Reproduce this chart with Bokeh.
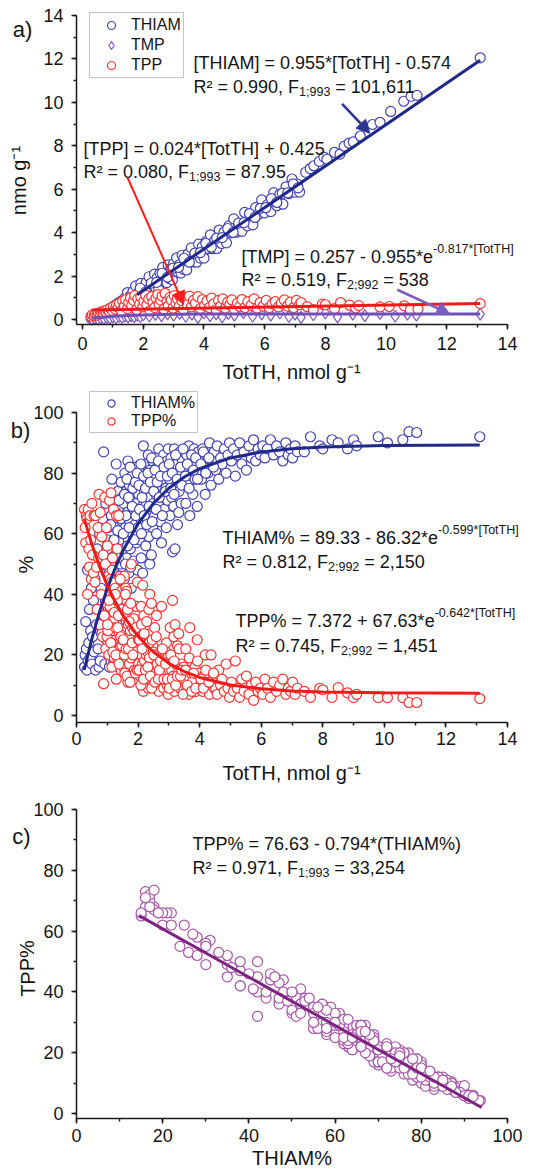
from bokeh.plotting import figure
from bokeh.models import (Label, Arrow, NormalHead, Legend, LegendItem,
                          SingleIntervalTicker, Range1d)
from bokeh.layouts import column
from bokeh.embed import file_html
from bokeh.resources import INLINE

FONT = "Liberation Sans"
TXT = "#141414"

# ---------------- Panel a: nmol/g vs TotTH ----------------
a_thiam_x = [0.28, 0.33, 0.36, 0.41, 0.45, 0.49, 0.53, 0.57, 0.62, 0.66, 0.70, 0.74, 0.79, 0.83, 0.87, 0.91, 0.96, 1.00,
             1.04, 1.09, 1.13, 1.17, 1.22, 1.26, 1.31, 1.35, 1.39, 1.44,
             1.48, 1.53, 1.57, 1.61, 1.66, 1.70, 1.75, 1.79, 1.84, 1.88, 1.92, 1.97,
             2.01, 2.06, 2.10, 2.15, 2.19, 2.24, 2.28, 2.33, 2.37, 2.42, 2.46, 2.51, 2.55, 2.60, 2.64, 2.69, 2.73, 2.78, 2.82, 2.87, 2.91, 2.96,
             3.00, 3.05, 3.10, 3.14, 3.19, 3.24, 3.28, 3.33, 3.38, 3.43, 3.48, 3.53, 3.58, 3.64, 3.70, 3.76, 3.82, 3.88, 3.94,
             4.00, 4.07, 4.14, 4.21, 4.28, 4.35, 4.42, 4.50, 4.58, 4.66, 4.74, 4.82, 4.90, 4.98,
             5.07, 5.16, 5.25, 5.34, 5.43, 5.52, 5.61, 5.70, 5.80, 5.90, 6.00,
             6.10, 6.20, 6.30, 6.40, 6.50, 6.60, 6.70, 6.80, 6.90, 7.00, 7.08, 7.15,
             7.35, 7.50, 7.62, 7.80, 7.95, 8.05, 8.30, 8.48, 8.62, 8.78, 8.92, 9.15, 9.55, 9.80, 10.15, 10.58, 10.82, 11.02, 13.10,
             1.55, 1.72, 1.90, 2.08, 2.26, 2.44, 2.62, 2.80, 2.98, 3.16, 3.34, 3.52, 3.70, 3.88, 4.06, 4.24,
             4.42, 4.60, 4.78, 4.96, 5.14, 5.32, 5.50, 5.68, 5.86, 6.04, 6.22, 6.40, 6.58, 6.76, 6.94, 7.10]
a_thiam_y = [0.06, 0.12, 0.04, 0.10, 0.18, 0.08, 0.22, 0.12, 0.28, 0.16, 0.33, 0.20, 0.40, 0.25, 0.48, 0.30, 0.55, 0.36,
             0.63, 0.35, 0.72, 0.42, 0.80, 0.50, 0.88, 0.58, 0.98, 0.66,
             1.24, 0.59, 1.08, 0.54, 1.29, 0.93, 1.55, 0.89, 1.23, 0.84, 1.66, 1.01,
             1.50, 0.97, 1.71, 1.36, 1.97, 1.32, 1.65, 1.27, 2.09, 1.44, 1.93, 1.40, 2.14, 1.79, 2.40, 1.75, 2.08, 1.70, 2.52, 1.87, 2.36, 1.83,
             2.57, 2.22, 2.84, 2.18, 2.52, 2.14, 2.96, 2.31, 2.80, 2.28, 3.03, 2.68, 3.30, 2.65, 3.01, 2.64, 3.47, 2.83, 3.34,
             2.83, 3.59, 3.26, 3.90, 3.26, 3.63, 3.27, 4.12, 3.50, 4.03, 3.53, 4.31, 3.99, 4.63,
             4.02, 4.40, 4.06, 4.93, 4.31, 4.85, 4.36, 5.15, 4.85, 5.51, 4.91,
             5.30, 4.97, 5.84, 5.24, 5.78, 5.31, 6.11, 5.80, 6.47, 5.86, 6.24, 5.87,
             6.78, 6.95, 7.08, 7.28, 7.48, 7.38, 7.70, 7.62, 7.98, 8.12, 8.18, 8.45, 8.98, 9.08, 9.58, 10.05, 10.28, 10.32, 12.05,
             1.00, 1.02, 1.44, 1.26, 1.68, 1.71, 2.13, 1.95, 2.37, 2.40, 2.82, 2.64, 3.06, 3.08, 3.50, 3.33,
             3.75, 3.77, 4.19, 4.01, 4.44, 4.46, 4.88, 4.70, 5.12, 5.15, 5.57, 5.39, 5.81, 5.83, 6.25, 6.06]

a_tpp_x = [0.28, 0.32, 0.38, 0.42, 0.48, 0.52, 0.58, 0.62, 0.68, 0.72, 0.78, 0.82, 0.88, 0.92, 0.98,
           1.02, 1.08, 1.12, 1.18, 1.22, 1.28, 1.32, 1.38, 1.42, 1.48, 1.52, 1.58, 1.62, 1.68, 1.72, 1.78, 1.82, 1.88, 1.92, 1.98,
           2.02, 2.08, 2.12, 2.18, 2.22, 2.28, 2.32, 2.38, 2.42, 2.48, 2.52, 2.58, 2.62, 2.68, 2.72, 2.78, 2.82, 2.88, 2.92, 2.98,
           3.02, 3.08, 3.12, 3.18, 3.22, 3.28, 3.32, 3.38, 3.45, 3.52, 3.58, 3.65, 3.72, 3.80, 3.88, 3.95,
           4.02, 4.10, 4.18, 4.25, 4.32, 4.40, 4.48, 4.55, 4.62, 4.70, 4.78, 4.85, 4.92,
           5.00, 5.10, 5.18, 5.25, 5.35, 5.45, 5.55, 5.65, 5.75, 5.85, 5.95,
           6.05, 6.15, 6.25, 6.35, 6.45, 6.55, 6.65, 6.75, 6.85, 6.95, 7.05, 7.15, 7.20,
           7.40, 7.60, 7.90, 8.00, 8.30, 8.50, 8.80, 9.00, 9.10, 9.80, 10.10, 10.60, 10.80, 11.05, 13.10]
a_tpp_y = [0.15, 0.22, 0.18, 0.25, 0.20, 0.30, 0.26, 0.35, 0.30, 0.40, 0.33, 0.45, 0.38, 0.52, 0.42,
           0.60, 0.48, 0.68, 0.55, 0.75, 0.40, 0.85, 0.62, 0.92, 0.50, 0.78, 1.00, 0.65, 0.88, 1.10, 0.45, 0.95, 0.72, 1.05, 0.58,
           0.85, 1.12, 0.68, 0.95, 0.40, 1.05, 0.78, 0.55, 0.98, 1.15, 0.70, 0.88, 1.08, 0.48, 1.20, 0.82, 0.62, 1.02, 0.90, 0.52,
           1.10, 0.75, 0.95, 0.60, 1.05, 0.85, 0.45, 0.98, 0.70, 1.08, 0.58, 0.88, 0.75, 1.05, 0.50, 0.92,
           0.65, 0.85, 0.55, 0.98, 0.72, 0.45, 0.88, 0.62, 0.95, 0.52, 0.80, 0.68, 0.90,
           0.48, 0.75, 0.60, 0.92, 0.55, 0.82, 0.65, 0.95, 0.52, 0.78, 0.62,
           0.88, 0.55, 0.72, 0.82, 0.58, 0.75, 0.90, 0.62, 0.80, 0.55, 0.88, 0.68, 0.78,
           0.59, 0.46, 0.71, 0.68, 0.50, 0.78, 0.66, 0.53, 0.64, 0.58, 0.60, 0.63, 0.46, 0.48, 0.73]

a_tmp_x = [0.3, 0.4, 0.5, 0.6, 0.7, 0.8, 0.9, 1.0, 1.1, 1.2, 1.3, 1.4, 1.5, 1.6, 1.7, 1.8, 1.9, 2.0,
           2.2, 2.4, 2.6, 2.8, 3.0, 3.2, 3.4, 3.6, 3.8, 4.0, 4.2, 4.4, 4.6, 4.8, 5.0,
           5.3, 5.6, 5.9, 6.2, 6.5, 6.8,
           7.0, 7.2, 7.6, 8.0, 8.4, 8.9, 9.3, 9.8, 10.3, 10.7, 11.0, 13.1]
a_tmp_y = [0.02, 0.05, 0.03, 0.08, 0.05, 0.10, 0.06, 0.12, 0.08, 0.14, 0.10, 0.16, 0.12, 0.18, 0.13, 0.20, 0.14, 0.22,
           0.16, 0.24, 0.18, 0.26, 0.20, 0.28, 0.15, 0.25, 0.10, 0.30, 0.18, 0.26, 0.12, 0.28, 0.20,
           0.32, 0.15, 0.26, 0.20, 0.30, 0.14,
           0.25, 0.10, 0.22, 0.30, 0.12, 0.25, 0.18, 0.28, 0.15, 0.25, 0.20, 0.25]

# fitted lines, panel a
a_thiam_fit_x = [1.8, 13.1]
a_thiam_fit_y = [1.145, 11.937]
a_tpp_fit_x = [0.3, 13.1]
a_tpp_fit_y = [0.432, 0.739]
a_tmp_fit_x = [0.3, 0.5, 0.75, 1.0, 1.5, 2.0, 3.0, 4.0, 6.0, 9.0, 13.1]
a_tmp_fit_y = [0.06, 0.09, 0.12, 0.15, 0.19, 0.21, 0.24, 0.25, 0.256, 0.257, 0.257]

# ---------------- Panel b / c: percentages per sample ----------------
b_tot = [0.26, 0.28, 0.30, 0.32, 0.34, 0.36, 0.38, 0.40, 0.42, 0.44, 0.46, 0.48,
         0.50, 0.52, 0.55, 0.57, 0.60, 0.62, 0.65, 0.67, 0.70, 0.72, 0.73, 0.75, 0.77, 0.80, 0.82, 0.85, 0.87, 0.88, 0.90, 0.92, 0.94, 0.95, 0.97, 0.98, 0.99, 1.00,
         1.02, 1.04, 1.05, 1.07, 1.09, 1.10, 1.12, 1.13, 1.14, 1.15, 1.17, 1.19, 1.20, 1.21, 1.23, 1.24, 1.25, 1.27, 1.29, 1.30, 1.31, 1.33, 1.35, 1.37, 1.39, 1.41, 1.43, 1.45, 1.46, 1.47, 1.48, 1.49,
         1.51, 1.53, 1.55, 1.57, 1.58, 1.60, 1.62, 1.63, 1.65, 1.67, 1.68, 1.70, 1.72, 1.73, 1.75, 1.77, 1.78, 1.80, 1.82, 1.84, 1.86, 1.88, 1.90, 1.92, 1.94, 1.96, 1.98, 1.99,
         2.02, 2.04, 2.06, 2.08, 2.10, 2.12, 2.14, 2.15, 2.17, 2.19, 2.21, 2.23, 2.25, 2.27, 2.29, 2.31, 2.33, 2.35, 2.37, 2.38, 2.39, 2.41, 2.43, 2.45, 2.47, 2.48, 2.49,
         2.52, 2.54, 2.56, 2.58, 2.60, 2.63, 2.65, 2.67, 2.70, 2.72, 2.74, 2.76, 2.78, 2.80, 2.83, 2.85, 2.87, 2.90, 2.92, 2.94, 2.96, 2.98,
         3.02, 3.04, 3.07, 3.09, 3.12, 3.14, 3.16, 3.18, 3.20, 3.23, 3.25, 3.28, 3.30, 3.33, 3.36, 3.40, 3.44, 3.48,
         3.52, 3.55, 3.58, 3.62, 3.65, 3.68, 3.72, 3.75, 3.78, 3.82, 3.85, 3.88, 3.92, 3.95, 3.98,
         4.02, 4.06, 4.10, 4.14, 4.18, 4.22, 4.27, 4.32, 4.37, 4.42, 4.47, 4.52, 4.57, 4.62, 4.68, 4.73, 4.80, 4.86, 4.92, 4.97,
         5.03, 5.10, 5.16, 5.22, 5.30, 5.37, 5.44, 5.52, 5.60, 5.68, 5.75, 5.82, 5.90, 5.97,
         6.05, 6.12, 6.20, 6.30, 6.40, 6.50, 6.60, 6.70, 6.80, 6.88, 6.95, 7.02, 7.10, 7.18,
         7.40, 7.60, 7.90, 8.00, 8.30, 8.50, 8.80, 9.00, 9.10, 9.80, 10.10, 10.60, 10.80, 11.05, 13.10,
         1.01, 1.06, 1.11, 1.16, 1.18, 1.22, 1.26, 1.28, 1.32, 1.34, 1.36, 1.38, 1.42, 1.44, 1.52,
         1.56, 1.59, 1.61, 1.64, 1.66, 1.69, 1.71, 1.74, 1.76, 1.81, 1.83, 1.87, 1.91, 1.93, 1.97,
         2.01, 2.03, 2.05, 2.09, 2.11, 2.13, 2.18, 2.20, 2.24, 2.28, 2.32, 2.36, 2.40,
         2.44, 2.46, 2.51, 2.55, 2.59, 2.62, 2.66, 2.69, 2.73, 2.79, 2.84, 2.89, 2.95,
         3.01, 3.06, 3.11, 3.17, 3.22, 3.27, 3.32, 3.38, 3.42, 3.46, 3.54,
         3.60, 3.66, 3.74, 3.80, 3.87, 3.93, 4.04, 4.12, 4.20, 4.30, 4.45]
b_thiam_pct = [16, 20, 31, 22, 15, 48, 18, 24, 35, 19, 28, 42,
               17, 26, 38, 21, 45, 15, 30, 55, 22, 35, 16, 60, 18, 42, 27, 65, 33, 87, 50, 17, 38, 70, 25, 47, 58, 30,
               62, 40, 72, 16, 52, 35, 18, 66, 45, 78, 28, 57, 17, 48, 70, 42, 38, 62, 83, 20, 53, 44, 74, 19, 60, 68, 50, 77, 41, 58, 72, 64,
               55, 70, 45, 80, 62, 38, 74, 52, 67, 84, 58, 47, 76, 64, 55, 71, 42, 79, 60, 68, 51, 75, 63, 82, 57, 70, 48, 66,
               73, 58, 80, 65, 52, 77, 69, 47, 89, 61, 74, 83, 56, 70, 78, 64, 86, 59, 72, 50, 81, 67, 53, 76, 84, 62, 70,
               79, 66, 85, 73, 60, 82, 70, 88, 76, 64, 83, 57, 78, 72, 86, 68, 80, 75, 62, 84, 71, 88,
               78, 66, 85, 72, 54, 81, 69, 88, 55, 76, 83, 63, 80, 74, 87, 70, 84, 77,
               82, 70, 86, 76, 89, 66, 80, 84, 73, 88, 78, 83, 69, 87, 80,
               85, 78, 88, 82, 73, 86, 80, 90, 76, 84, 87, 81, 89, 78, 85, 83, 88, 80, 86, 90,
               84, 88, 79, 86, 90, 83, 87, 81, 89, 85, 91, 84, 88, 86,
               89, 85, 88, 91, 86, 89, 87, 84, 90, 86, 88, 85, 89, 87,
               87, 92, 89, 88, 91, 90, 88, 91, 89, 92, 90, 91, 93.7, 93.4, 92,
               55, 47, 63, 36, 70, 58, 44, 67, 30, 61, 52, 71, 46, 65, 60,
               73, 50, 66, 78, 56, 72, 62, 82, 49, 69, 75, 58, 77, 66, 80,
               62, 76, 68, 83, 60, 72, 79, 66, 75, 63, 80, 69, 77,
               85, 64, 74, 81, 68, 77, 84, 72, 79, 66, 82, 74, 79,
               83, 75, 80, 73, 86, 78, 67, 82, 76, 88, 79,
               83, 75, 86, 81, 85, 78, 83, 87, 80, 85, 82]
b_tpp_pct = [68, 62, 57, 66, 65, 40, 68, 55, 49, 66, 58, 45,
             70, 53, 47, 66, 44, 66, 49, 35, 62, 52, 73, 30, 67, 40, 59, 26, 53, 10.5, 33, 72, 50, 22, 62, 37, 26, 56,
             28, 46, 20, 71, 36, 45, 73.5, 24, 44, 16, 52, 30, 68, 40, 19, 32, 42, 29, 12, 66, 38, 38, 18, 66, 27, 22, 34, 15, 41, 35, 23, 25,
             33, 16, 46, 14, 27, 42, 18, 41, 29, 11, 30, 36, 17, 26, 28, 19, 50, 13, 29, 22, 32, 15, 22, 12, 36, 21, 44, 25,
             17, 27, 13, 29, 36, 20, 17, 43, 8, 33, 18, 11, 28, 20, 14, 21, 9, 35, 19, 40, 12, 27, 37, 16, 10, 23, 21,
             14, 29, 10, 14, 33, 12, 17, 8, 20, 21, 11, 36, 15, 20, 9, 19, 13, 21, 24, 10, 19, 7,
             15, 29, 10, 15, 38, 13, 26, 8, 30, 17, 11, 23, 14, 22, 9, 17, 12, 16,
             12, 22, 9, 13, 7, 29, 14, 11, 15, 8, 16, 8, 25, 9, 14,
             10, 11, 8, 13, 20, 9, 10, 7, 20, 11, 9, 9, 7, 15, 10, 12, 8, 17, 9, 6,
             11, 8, 18, 9, 6, 12, 8, 13, 7, 10, 5, 11, 8, 9,
             7, 12, 9, 6, 11, 8, 10, 12, 7, 9, 8, 11, 7, 9,
             8, 6, 9, 8.5, 6, 9.2, 7.5, 5.9, 7, 5.9, 5.9, 5.9, 4.3, 4.3, 5.6,
             30, 38, 24, 48, 21, 34, 40, 20, 55, 29, 33, 17, 45, 26, 25,
             20, 40, 22, 13, 35, 22, 31, 11, 37, 24, 20, 28, 14, 29, 15,
             25, 15, 25, 10, 30, 22, 12, 27, 15, 31, 16, 24, 13,
             9, 25, 20, 11, 26, 17, 12, 15, 18, 22, 12, 17, 12,
             9, 20, 12, 18, 10, 13, 27, 13, 15, 7, 15,
             10, 19, 8, 14, 9, 18, 12, 9, 15, 11, 14]

# fitted curves, panel b
b_fit_x = [0.25, 0.5, 0.75, 1.0, 1.25, 1.5, 2.0, 2.5, 3.0, 3.5, 4.0, 5.0, 6.0, 7.0, 8.0, 10.0, 13.1]
b_thiam_fit = [15.02, 25.35, 34.25, 41.90, 48.50, 54.18, 63.28, 70.02, 75.02, 78.72, 81.47, 85.01, 86.96, 88.03, 88.61, 89.11, 89.30]
b_tpp_fit = [64.97, 56.43, 49.15, 42.96, 37.68, 33.19, 26.10, 20.96, 17.23, 14.52, 12.56, 10.10, 8.81, 8.13, 7.77, 7.48, 7.39]

# fitted line, panel c
c_fit_x = [14.5, 94.0]
c_fit_y = [65.12, 2.0]

# ---------------- colours ----------------
BLUE_PT, BLUE_LN = "#4343b4", "#1f2a88"
RED_PT, RED_LN = "#ff3434", "#f01a1a"
PUR_PT, PUR_LN = "#8157c0", "#6f50b8"
MAG_PT, MAG_LN = "#a957aa", "#7d2482"

# ---------------- text helpers ----------------
W = {' ': 278, '%': 889, '(': 333, ')': 333, '*': 389, '+': 584, ',': 278, '-': 333, '.': 278,
     ';': 278, '=': 584, 'A': 667, 'F': 611, 'H': 722, 'I': 278, 'M': 833, 'P': 667, 'R': 722,
     'T': 611, '[': 278, ']': 278, 'e': 556, 'o': 556, 't': 278, '\u00b2': 333}


def tw(s, size):
    return sum(W.get(c, 556) for c in s) * size / 1000.0


def rich(p, x, y, parts, size=18, small=12.5):
    off = 0.0
    for txt, kind in parts:
        fs = size if kind == "n" else small
        dy = 0 if kind == "n" else (-5 if kind == "sub" else 8)
        lead = len(txt) - len(txt.lstrip(" "))
        off += lead * 0.278 * fs
        core = txt.strip(" ")
        p.add_layout(Label(x=x, y=y, x_offset=off, y_offset=dy, text=core, text_font=FONT,
                           text_font_size=f"{fs}px", text_color=TXT, text_align="left",
                           text_baseline="alphabetic"))
        off += tw(core, fs)
        off += (len(txt) - lead - len(core)) * 0.278 * fs


def plain(p, x, y, text, size, angle=0.0, align="center", baseline="middle"):
    p.add_layout(Label(x=x, y=y, text=text, text_font=FONT, text_font_size=f"{size}px",
                       text_color=TXT, angle=angle, text_align=align, text_baseline=baseline))


def make_fig(h, xr, yr, xint, yint, x_axis_at, y_axis_at, xbounds, ybounds, xstand):
    # the frame covers the whole canvas; axes are pinned at fixed data positions
    p = figure(width=536, height=h, x_range=Range1d(*xr), y_range=Range1d(*yr),
               output_backend="svg", toolbar_location=None, tools="",
               min_border=0, min_border_left=0, min_border_right=0,
               min_border_top=0, min_border_bottom=0)
    p.outline_line_color = None
    p.xgrid.visible = False
    p.ygrid.visible = False
    p.background_fill_color = "white"
    p.border_fill_color = "white"
    p.xaxis.ticker = SingleIntervalTicker(interval=xint, num_minor_ticks=2)
    p.yaxis.ticker = SingleIntervalTicker(interval=yint, num_minor_ticks=2)
    p.xaxis.fixed_location = x_axis_at
    p.yaxis.fixed_location = y_axis_at
    p.xaxis.bounds = xbounds
    p.yaxis.bounds = ybounds
    for ax in (p.xaxis[0], p.yaxis[0]):
        ax.axis_line_width = 1.5
        ax.axis_line_color = "#1a1a1a"
        ax.major_tick_line_width = 1.5
        ax.minor_tick_line_width = 1.5
        ax.major_tick_line_color = "#1a1a1a"
        ax.minor_tick_line_color = "#1a1a1a"
        ax.major_tick_in = 0
        ax.major_tick_out = 5
        ax.minor_tick_in = 0
        ax.minor_tick_out = 3
        ax.major_label_text_font = FONT
        ax.major_label_text_font_size = "18px"
        ax.major_label_text_color = TXT
    p.xaxis.major_label_standoff = xstand
    p.yaxis.major_label_standoff = 8
    return p


def legend(p, items, vx, vy, item_h):
    lg = Legend(items=items, location=(vx, vy), orientation="vertical",
                border_line_color="#8a8a8a", border_line_width=1,
                background_fill_color="white", background_fill_alpha=1.0,
                label_text_font=FONT, label_text_font_size="16px", label_text_color=TXT,
                glyph_width=38, glyph_height=item_h, label_height=item_h,
                label_standoff=1, padding=2, spacing=0, margin=0)
    p.add_layout(lg)


# ================= Panel a (page rows 0..385) =================
pa = make_fig(385, (-2.704, 14.955), (-3.039, 14.690), 2, 2, -0.23, -0.2,
              (-0.2, 14), (-0.23, 14), 7)


def pxa(px):
    return -2.704 + px / 30.352


def pya(py):
    return 14.690 - py / 21.715


r_thiam = pa.scatter(a_thiam_x, a_thiam_y, marker="circle", size=10, line_color=BLUE_PT,
                     fill_color="white", line_width=1.2)
r_tmp = pa.scatter(a_tmp_x, a_tmp_y, marker="diamond", size=12, line_color=PUR_PT,
                   fill_color="white", line_width=1.2)
r_tpp = pa.scatter(a_tpp_x, a_tpp_y, marker="circle", size=10, line_color=RED_PT,
                   fill_color="white", line_width=1.2)
pa.line(a_thiam_fit_x, a_thiam_fit_y, line_color=BLUE_LN, line_width=3)
pa.line(a_tpp_fit_x, a_tpp_fit_y, line_color=RED_LN, line_width=3)
pa.line(a_tmp_fit_x, a_tmp_fit_y, line_color=PUR_LN, line_width=3)

pa.add_layout(Arrow(end=NormalHead(size=13, line_color="#2b3592", fill_color="#2b3592"),
                    x_start=8.55, y_start=9.93, x_end=9.46, y_end=8.58,
                    line_color="#2b3592", line_width=2.5))
pa.add_layout(Arrow(end=NormalHead(size=13, line_color="#ff1c1c", fill_color="#ff1c1c"),
                    x_start=1.48, y_start=6.54, x_end=3.33, y_end=0.69,
                    line_color="#ff1c1c", line_width=2))
pa.add_layout(Arrow(end=NormalHead(size=13, line_color="#7b5cc2", fill_color="#7b5cc2"),
                    x_start=10.37, y_start=1.37, x_end=12.10, y_end=0.26,
                    line_color="#7b5cc2", line_width=2.5))

legend(pa, [LegendItem(label="THIAM", renderers=[r_thiam]),
            LegendItem(label="TMP", renderers=[r_tmp]),
            LegendItem(label="TPP", renderers=[r_tpp])], 89, 307, 20)

rich(pa, pxa(193), pya(62.7), [("[THIAM] = 0.955*[TotTH] - 0.574", "n")])
rich(pa, pxa(193), pya(86), [("R\u00b2 = 0.990, F", "n"), ("1;993", "sub"), (" = 101,611", "n")])
rich(pa, pxa(83), pya(148), [("[TPP] = 0.024*[TotTH] + 0.425", "n")])
rich(pa, pxa(83), pya(171), [("R\u00b2 = 0.080, F", "n"), ("1;993", "sub"), (" = 87.95", "n")])
rich(pa, pxa(241), pya(256), [("[TMP] = 0.257 - 0.955*e", "n"), ("-0.817*[TotTH]", "sup")])
rich(pa, pxa(241), pya(279), [("R\u00b2 = 0.519, F", "n"), ("2;992", "sub"), (" = 538", "n")])

plain(pa, pxa(22), pya(29), "a)", 22)
plain(pa, pxa(18), pya(180), "nmo g\u207b\u00b9", 20, angle=1.5708)
plain(pa, pxa(291), pya(371), "TotTH, nmol g\u207b\u00b9", 20, baseline="alphabetic")

# ================= Panel b (page rows 385..790) =================
pb = make_fig(405, (-2.469, 14.942), (-24.74, 108.91), 2, 20, -2.3, 0,
              (0, 14), (-2.3, 100), 4)


def pxb(px):
    return -2.469 + px / 30.786


def pyb(py):
    return 108.91 - (py - 385) / 3.0303


r_thp = pb.scatter(b_tot, b_thiam_pct, marker="circle", size=10, line_color=BLUE_PT,
                   fill_color="white", line_width=1.2)
r_tpp_p = pb.scatter(b_tot, b_tpp_pct, marker="circle", size=10, line_color=RED_PT,
                     fill_color="white", line_width=1.2)
pb.line(b_fit_x, b_thiam_fit, line_color=BLUE_LN, line_width=3)
pb.line(b_fit_x, b_tpp_fit, line_color=RED_LN, line_width=3)

legend(pb, [LegendItem(label="THIAM%", renderers=[r_thp]),
            LegendItem(label="TPP%", renderers=[r_tpp_p])], 89, 357, 18)

rich(pb, pxb(222), pyb(537), [("THIAM% = 89.33 - 86.32*e", "n"), ("-0.599*[TotTH]", "sup")])
rich(pb, pxb(222), pyb(561), [("R\u00b2 = 0.812, F", "n"), ("2;992", "sub"), (" = 2,150", "n")])
rich(pb, pxb(235), pyb(620), [("TPP% = 7.372 + 67.63*e", "n"), ("-0.642*[TotTH]", "sup")])
rich(pb, pxb(235), pyb(645), [("R\u00b2 = 0.745, F", "n"), ("2;992", "sub"), (" = 1,451", "n")])

plain(pb, pxb(20), pyb(430), "b)", 22)
plain(pb, pxb(26), pyb(564), "%", 20, angle=1.5708)
plain(pb, pxb(291), pyb(772), "TotTH, nmol g\u207b\u00b9", 20, baseline="alphabetic")

# ================= Panel c (page rows 790..1175) =================
pc = make_fig(385, (-17.633, 106.729), (-20.34, 106.247), 20, 20, -1.6, 0,
              (0, 100), (-1.6, 100), 5)


def pxc(px):
    return -17.633 + px / 4.31


def pyc(py):
    return 106.247 - (py - 790) / 3.0413


pc.scatter(b_thiam_pct, b_tpp_pct, marker="circle", size=10, line_color=MAG_PT,
           fill_color="white", line_width=1.2)
pc.line(c_fit_x, c_fit_y, line_color=MAG_LN, line_width=3)

rich(pc, pxc(192), pyc(843), [("TPP% = 76.63 - 0.794*(THIAM%)", "n")])
rich(pc, pxc(192), pyc(867), [("R\u00b2 = 0.971, F", "n"), ("1;993", "sub"), (" = 33,254", "n")])

plain(pc, pxc(21), pyc(836), "c)", 22)
plain(pc, pxc(27), pyc(968), "TPP%", 20, angle=1.5708)
pc.xaxis.axis_label = "THIAM%"
pc.xaxis.axis_label_text_font = FONT
pc.xaxis.axis_label_text_font_size = "20px"
pc.xaxis.axis_label_text_font_style = "normal"
pc.xaxis.axis_label_text_color = TXT
pc.xaxis.axis_label_standoff = 2

layout = column(pa, pb, pc, spacing=0)
open("out.html", "w").write(file_html(layout, INLINE))
